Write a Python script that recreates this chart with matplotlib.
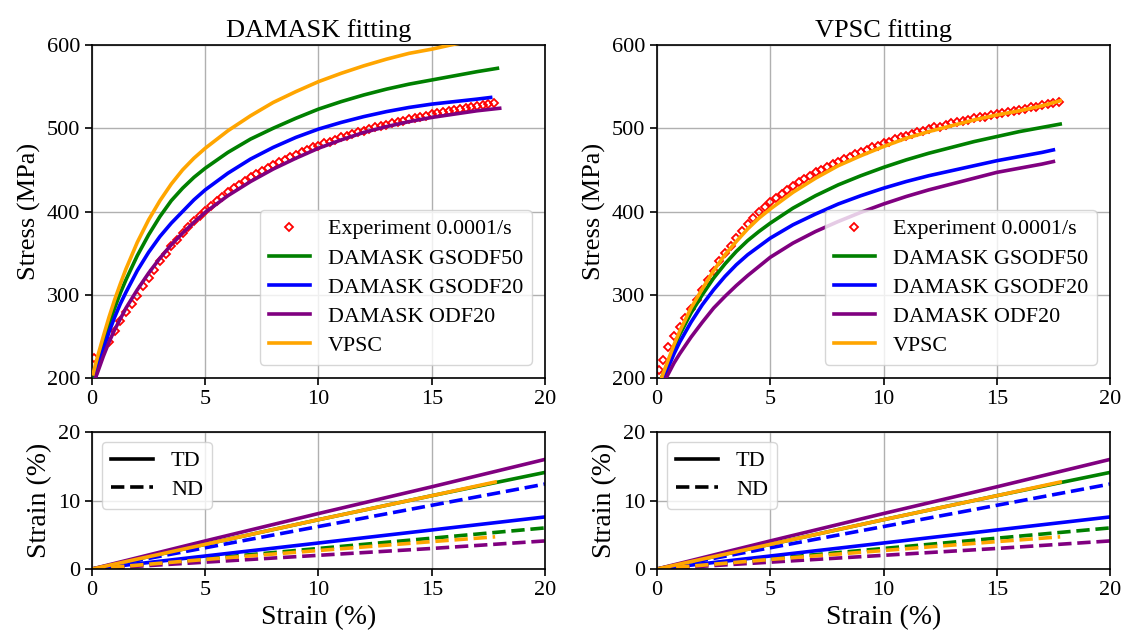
import numpy as np
import matplotlib
matplotlib.use('Agg')
import matplotlib.pyplot as plt
from matplotlib.lines import Line2D

plt.rcParams['font.family'] = ['Liberation Serif', 'DejaVu Serif']
plt.rcParams['axes.linewidth'] = 1.2

# ---- experiment, 0.0001/s (sampled every 0.25 % strain) ----
exp_left_strain = np.concatenate([[0.1], np.arange(0.75, 17.8, 0.25)])
exp_left_stress = [224,
                   243,
                   256, 268, 279, 289,
                   299, 310, 320, 330,
                   340, 349, 358, 366,
                   374, 381, 388, 395,
                   401, 407, 413, 418,
                   423, 428, 432, 437,
                   441, 445, 449, 452,
                   456, 459, 462, 465,
                   468, 471, 474, 477,
                   479, 482, 484, 486,
                   489, 491, 493, 495,
                   497, 499, 501, 503,
                   504, 506, 508, 509,
                   511, 512, 514, 515,
                   517, 518, 519, 521,
                   522, 523, 524, 525,
                   527, 528, 529, 530]

exp_right_strain = np.concatenate([[0.1], np.arange(0.25, 17.8, 0.25)])
exp_right_stress = [210,
                    222, 237, 250,
                    261, 272, 283, 294,
                    306, 318, 329, 340,
                    350, 359, 368, 377,
                    385, 392, 399, 405,
                    411, 416, 421, 426,
                    431, 435, 439, 443,
                    447, 450, 454, 457,
                    460, 463, 466, 469,
                    472, 474, 477, 479,
                    482, 484, 487, 489,
                    491, 493, 495, 497,
                    499, 501, 502, 504,
                    506, 507, 509, 510,
                    512, 513, 514, 516,
                    517, 518, 519, 521,
                    522, 523, 525, 526,
                    528, 529, 530, 532]

# ---- simulated stress-strain curves, DAMASK fitting ----
L_gs50_strain = [0.1, 0.25, 0.5, 0.75, 1.0, 1.25, 1.5, 2.0, 2.5, 3.0, 3.5, 4.0, 4.5, 5.0, 6.0,
                 7.0, 8.0, 9.0, 10, 11, 12, 13, 14, 15, 16, 17, 17.9]
L_gs50_stress = [200, 217, 242, 264, 284, 302, 318, 347, 372, 394, 413, 428, 441, 452, 471,
                 487, 500, 512, 523, 532, 540, 547, 553, 558, 563, 568, 572]

L_gs20_strain = [0.15, 0.25, 0.5, 0.75, 1.0, 1.25, 1.5, 2.0, 2.5, 3.0, 3.5, 4.0, 4.5, 5.0, 6.0,
                 7.0, 8.0, 9.0, 10, 11, 12, 13, 14, 15, 16, 17, 17.6]
L_gs20_stress = [200, 210, 234, 255, 273, 289, 303, 329, 351, 370, 386, 400, 414, 426, 446,
                 463, 477, 489, 499, 507, 514, 520, 525, 529, 532, 535, 537]

L_odf20_strain = [0.15, 0.25, 0.5, 0.75, 1.0, 1.5, 2.0, 2.5, 3.0, 3.5, 4.0, 4.5, 5.0, 6.0,
                  7.0, 8.0, 9.0, 10, 11, 12, 13, 14, 15, 16, 17, 18]
L_odf20_stress = [200, 207, 226, 243, 258, 284, 306, 326, 344, 360, 374, 387, 399, 419,
                  436, 451, 464, 476, 486, 495, 502, 508, 513, 517, 521, 524]

L_vpsc_strain = [0.05, 0.25, 0.5, 0.75, 1.0, 1.25, 1.5, 2.0, 2.5, 3.0, 3.5, 4.0, 4.5, 5.0, 6.0,
                 7.0, 8.0, 9.0, 10, 11, 12, 13, 14, 15, 16, 17, 17.8]
L_vpsc_stress = [205, 226, 250, 273, 294, 313, 331, 363, 390, 413, 433, 450, 464, 476, 497,
                 515, 531, 544, 556, 566, 575, 583, 590, 595, 601, 606, 610]

# ---- simulated stress-strain curves, VPSC fitting ----
R_gs50_strain = [0.2, 0.5, 0.75, 1.0, 1.5, 2.0, 2.5, 3.0, 3.5, 4.0, 4.5, 5.0, 6.0, 7.0, 8.0,
                 9.0, 10, 11, 12, 13, 14, 15, 16, 17, 17.8]
R_gs50_stress = [200, 220, 237, 252, 278, 300, 320, 337, 352, 365, 376, 386, 404, 419, 432,
                 443, 453, 462, 470, 477, 484, 490, 496, 501, 505]

R_gs20_strain = [0.3, 0.5, 0.75, 1.0, 1.5, 2.0, 2.5, 3.0, 3.5, 4.0, 4.5, 5.0, 6.0, 7.0, 8.0,
                 9.0, 10, 11, 12, 13, 14, 15, 16, 17, 17.5]
R_gs20_stress = [200, 213, 229, 243, 267, 288, 306, 322, 336, 348, 358, 368, 384, 397, 409,
                 419, 428, 436, 443, 449, 455, 461, 466, 471, 474]

R_odf20_strain = [0.4, 0.5, 0.75, 1.0, 1.5, 2.0, 2.5, 3.0, 3.5, 4.0, 4.5, 5.0, 6.0, 7.0, 8.0,
                  9.0, 10, 11, 12, 13, 14, 15, 16, 17, 17.5]
R_odf20_stress = [200, 205, 218, 229, 249, 267, 284, 298, 311, 323, 334, 345, 362, 376, 388,
                  399, 409, 418, 426, 433, 440, 447, 452, 457, 460]

R_vpsc_strain = [0.2, 0.5, 0.75, 1.0, 1.5, 2.0, 2.5, 3.0, 3.5, 4.0, 4.5, 5.0, 6.0, 7.0, 8.0,
                 9.0, 10, 11, 12, 13, 14, 15, 16, 17, 17.8]
R_vpsc_stress = [200, 222, 240, 256, 284, 307, 329, 348, 364, 379, 392, 403, 423, 440, 455,
                 467, 478, 488, 496, 503, 510, 516, 521, 527, 533]

# ---- lateral strains (TD solid, ND dashed) vs axial strain ----
lat_x = [0, 5, 10, 15, 20]
lat_x_vpsc = [0, 5, 10, 15, 17.8]
gs50_td = [0, 3.6, 7.2, 10.7, 14.1]
gs50_nd = [0, 1.5, 3.0, 4.5, 6.0]
gs20_td = [0, 1.9, 3.8, 5.7, 7.6]
gs20_nd = [0, 3.1, 6.2, 9.3, 12.4]
odf20_td = [0, 4.1, 8.1, 12.0, 16.0]
odf20_nd = [0, 1.0, 2.0, 3.0, 4.1]
vpsc_td = [0, 3.6, 7.2, 10.7, 12.7]
vpsc_nd = [0, 1.4, 2.7, 4.0, 4.7]

labels = ['DAMASK GSODF50', 'DAMASK GSODF20', 'DAMASK ODF20', 'VPSC']
colors = ['green', 'blue', 'purple', 'orange']
lw = 2.6


def stress_panel(ax, title, exp_x, exp_y, curves):
    ax.plot(exp_x, exp_y, 'D', ms=4.5, mfc='none', mec='red', mew=1.3,
            label='Experiment 0.0001/s', zorder=2)
    for (x, y), lab, c in zip(curves, labels, colors):
        ax.plot(x, y, color=c, lw=lw, label=lab, zorder=3)
    ax.set_xlim(0, 20)
    ax.set_ylim(200, 600)
    ax.set_xticks([0, 5, 10, 15, 20])
    ax.set_yticks([200, 300, 400, 500, 600])
    ax.grid(True, color='#b0b0b0', lw=1.0)
    ax.set_axisbelow(True)
    ax.set_title(title, fontsize=19)
    ax.set_ylabel('Stress (MPa)', fontsize=19)
    ax.tick_params(labelsize=16, length=5, width=1.2)
    ax.legend(loc='lower right', fontsize=15.8, numpoints=1, handlelength=1.9,
              borderaxespad=0.6, labelspacing=0.4)


def strain_panel(ax):
    td = [gs50_td, gs20_td, odf20_td]
    nd = [gs50_nd, gs20_nd, odf20_nd]
    for t, n, c in zip(td, nd, colors[:3]):
        ax.plot(lat_x, t, color=c, lw=lw)
        ax.plot(lat_x, n, color=c, lw=lw, ls='--')
    ax.plot(lat_x_vpsc, vpsc_td, color='orange', lw=lw)
    ax.plot(lat_x_vpsc, vpsc_nd, color='orange', lw=lw, ls='--')
    ax.set_xlim(0, 20)
    ax.set_ylim(0, 20)
    ax.set_xticks([0, 5, 10, 15, 20])
    ax.set_yticks([0, 10, 20])
    ax.grid(True, color='#b0b0b0', lw=1.0)
    ax.set_axisbelow(True)
    ax.set_xlabel('Strain (%)', fontsize=20)
    ax.set_ylabel('Strain (%)', fontsize=20)
    ax.tick_params(labelsize=16, length=5, width=1.2)
    handles = [Line2D([], [], color='black', lw=lw),
               Line2D([], [], color='black', lw=lw, ls='--')]
    ax.legend(handles, ['TD', 'ND'], loc='upper left', fontsize=16,
              handlelength=1.9, borderaxespad=0.45, labelspacing=0.35)


fig = plt.figure(figsize=(11.26, 6.34), dpi=100)
ax1 = fig.add_axes([0.0817, 0.4038, 0.4023, 0.5252])
ax2 = fig.add_axes([0.5835, 0.4038, 0.4023, 0.5252])
ax3 = fig.add_axes([0.0817, 0.1025, 0.4023, 0.2161])
ax4 = fig.add_axes([0.5835, 0.1025, 0.4023, 0.2161])

stress_panel(ax1, 'DAMASK fitting', exp_left_strain, exp_left_stress,
             [(L_gs50_strain, L_gs50_stress), (L_gs20_strain, L_gs20_stress),
              (L_odf20_strain, L_odf20_stress), (L_vpsc_strain, L_vpsc_stress)])
stress_panel(ax2, 'VPSC fitting', exp_right_strain, exp_right_stress,
             [(R_gs50_strain, R_gs50_stress), (R_gs20_strain, R_gs20_stress),
              (R_odf20_strain, R_odf20_stress), (R_vpsc_strain, R_vpsc_stress)])
strain_panel(ax3)
strain_panel(ax4)

fig.savefig('out.png', dpi=100)
